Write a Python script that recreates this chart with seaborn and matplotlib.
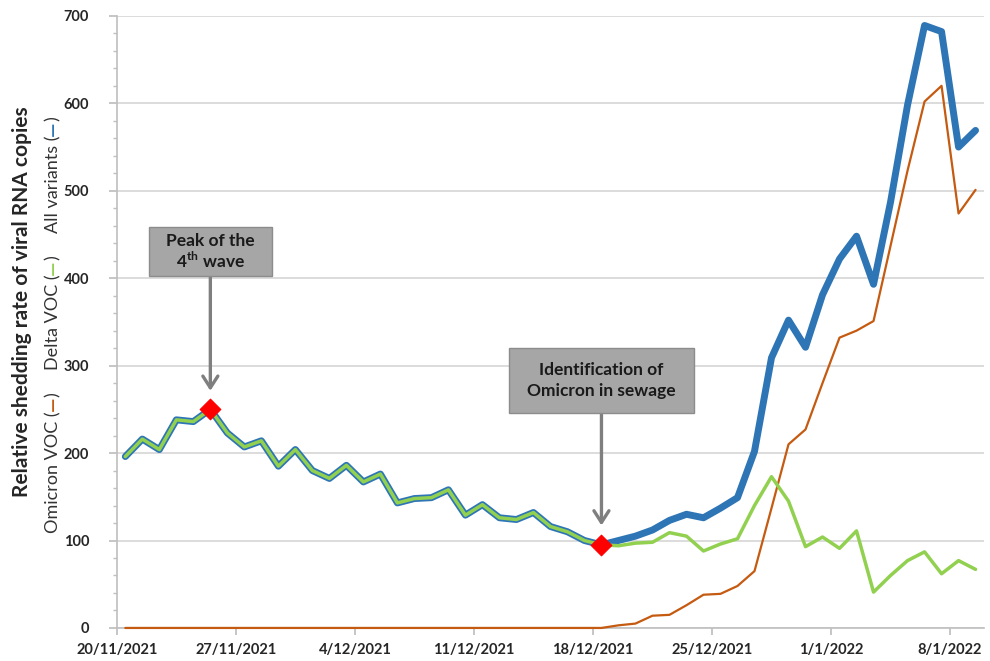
import pandas as pd
import matplotlib
matplotlib.use('Agg')
import matplotlib.pyplot as plt
import matplotlib.dates as mdates
from matplotlib.patches import Rectangle
from matplotlib.ticker import MultipleLocator
import seaborn as sns

# Daily values (20/11/2021 - 9/1/2022)
dates = pd.date_range('2021-11-20', periods=51, freq='D')
all_variants = [196, 216, 204, 238, 236, 250, 223, 207, 214, 185, 204, 180, 171, 186, 167, 176,
                143, 148, 149, 158, 129, 141, 126, 124, 132, 116, 110, 100, 95, 100, 105, 112,
                123, 130, 126, 137, 149, 202, 309, 352, 321, 381, 422, 448, 393, 487, 598, 689,
                682, 550, 569]
delta_voc = [196, 216, 204, 238, 236, 250, 223, 207, 214, 185, 204, 180, 171, 186, 167, 176,
             143, 148, 149, 158, 129, 141, 126, 124, 132, 116, 110, 100, 95, 94, 97, 98,
             109, 105, 88, 96, 102, 140, 173, 145, 93, 104, 91, 111, 41, 60, 77, 87,
             62, 77, 67]
omicron_voc = [0] * 29 + [3, 5, 14, 15, 26, 38, 39, 48, 65, 137, 210, 227, 280, 332, 340, 351,
                          437, 523, 602, 620, 474, 501]

tick_dates = pd.to_datetime(['2021-11-20', '2021-11-27', '2021-12-04', '2021-12-11',
                             '2021-12-18', '2021-12-25', '2022-01-01', '2022-01-08'])
tick_labels = ['20/11/2021', '27/11/2021', '4/12/2021', '11/12/2021',
               '18/12/2021', '25/12/2021', '1/1/2022', '8/1/2022']
y_ticks = [0, 100, 200, 300, 400, 500, 600, 700]

peak_idx = 5       # peak of the 4th wave
omicron_idx = 28   # identification of Omicron in sewage

blue = '#2e75b6'
green = '#92d050'
orange = '#c55a11'

sns.set_theme(style='white')
plt.rcParams['font.family'] = ['Lato', 'DejaVu Sans']
plt.rcParams['mathtext.fontset'] = 'custom'
plt.rcParams['mathtext.rm'] = 'Lato'
plt.rcParams['mathtext.bf'] = 'Lato:bold'

# points sit in the middle of each day
df = pd.DataFrame({'date': dates + pd.Timedelta(hours=12),
                   'All variants': all_variants,
                   'Delta VOC': delta_voc,
                   'Omicron VOC': omicron_voc})

fig = plt.figure(figsize=(9.9, 6.61), dpi=100)
ax = fig.add_axes([0.118, 0.05, 0.876, 0.926])

sns.lineplot(data=df, x='date', y='All variants', color=blue, linewidth=5, ax=ax, clip_on=False, zorder=3)
sns.lineplot(data=df, x='date', y='Omicron VOC', color=orange, linewidth=1.6, ax=ax, clip_on=False, zorder=4)
sns.lineplot(data=df, x='date', y='Delta VOC', color=green, linewidth=2.5, ax=ax, clip_on=False, zorder=5)

mk = df.iloc[[peak_idx, omicron_idx]]
sns.scatterplot(x=mk['date'], y=mk['All variants'], marker='D', s=110, color='red',
                edgecolor='red', ax=ax, zorder=6)

ax.set_xlim(pd.Timestamp('2021-11-20'), pd.Timestamp('2022-01-10'))
ax.set_ylim(0, 700)
ax.set_xticks(tick_dates)
ax.set_xticklabels(tick_labels, fontweight='bold', fontsize=10.5, color='#262626')
ax.set_yticks(y_ticks)
ax.set_yticklabels([str(v) for v in y_ticks], fontweight='bold', fontsize=10.5, color='#262626')
ax.yaxis.set_minor_locator(MultipleLocator(20))
ax.tick_params(axis='both', which='both', direction='out', color='#bfbfbf', bottom=True, left=True)
ax.tick_params(axis='y', which='major', length=6, pad=14)
ax.tick_params(axis='y', which='minor', length=3)
ax.tick_params(axis='x', which='major', length=5, pad=6)
ax.yaxis.grid(True, color='#d9d9d9', linewidth=1.3)
ax.xaxis.grid(False)
ax.set_axisbelow(True)
ax.set_xlabel('')
ax.set_ylabel('')
for side in ['top', 'right']:
    ax.spines[side].set_visible(False)
for side in ['left', 'bottom']:
    ax.spines[side].set_color('#bfbfbf')
    ax.spines[side].set_linewidth(1.2)

# annotation boxes with arrows (box size in days / y units)
arrow_style = dict(arrowstyle='->,head_length=0.7,head_width=0.45', color='#7f7f7f', lw=2.4)


def callout(idx, yc, w, h, tip, text, ls):
    xd = df['date'].iloc[idx]
    xn = mdates.date2num(xd)
    ax.add_patch(Rectangle((xn - w / 2, yc - h / 2), w, h, fc='#a6a6a6', ec='#8c8c8c', lw=1, zorder=8))
    ax.annotate('', xy=(xd, tip), xytext=(xd, yc), arrowprops=arrow_style, zorder=7)
    ax.text(xd, yc, text, ha='center', va='center', fontsize=12.5, fontweight='bold',
            linespacing=ls, color='#1a1a1a', zorder=9)


callout(peak_idx, 430, 7.2, 56, 268, 'Peak of the\n4$^{\\mathbf{th}}$ wave', 1.15)
callout(omicron_idx, 283, 10.9, 74, 114, 'Identification of\nOmicron in sewage', 1.35)

# y label: bold title plus a coloured key line
fig.text(22 / 990, 1 - 302 / 661, 'Relative shedding rate of viral RNA copies', rotation=90,
         ha='center', va='center', fontsize=15, fontweight='bold')

fig.canvas.draw()
renderer = fig.canvas.get_renderer()
groups = [('Omicron VOC (', orange), ('Delta VOC (', green), ('All variants (', blue)]
ypix = 533
for name, col in groups:
    for piece, c in [(name, '#333333'), ('\u2014', col), (')', '#333333')]:
        t = fig.text(53 / 990, 1 - ypix / 661, piece, rotation=90, ha='center', va='bottom',
                     fontsize=13, color=c, fontweight='bold' if c == col else 'normal')
        ext = t.get_window_extent(renderer)
        ypix -= ext.height
    ypix -= 22

fig.savefig('out.png', dpi=100)
